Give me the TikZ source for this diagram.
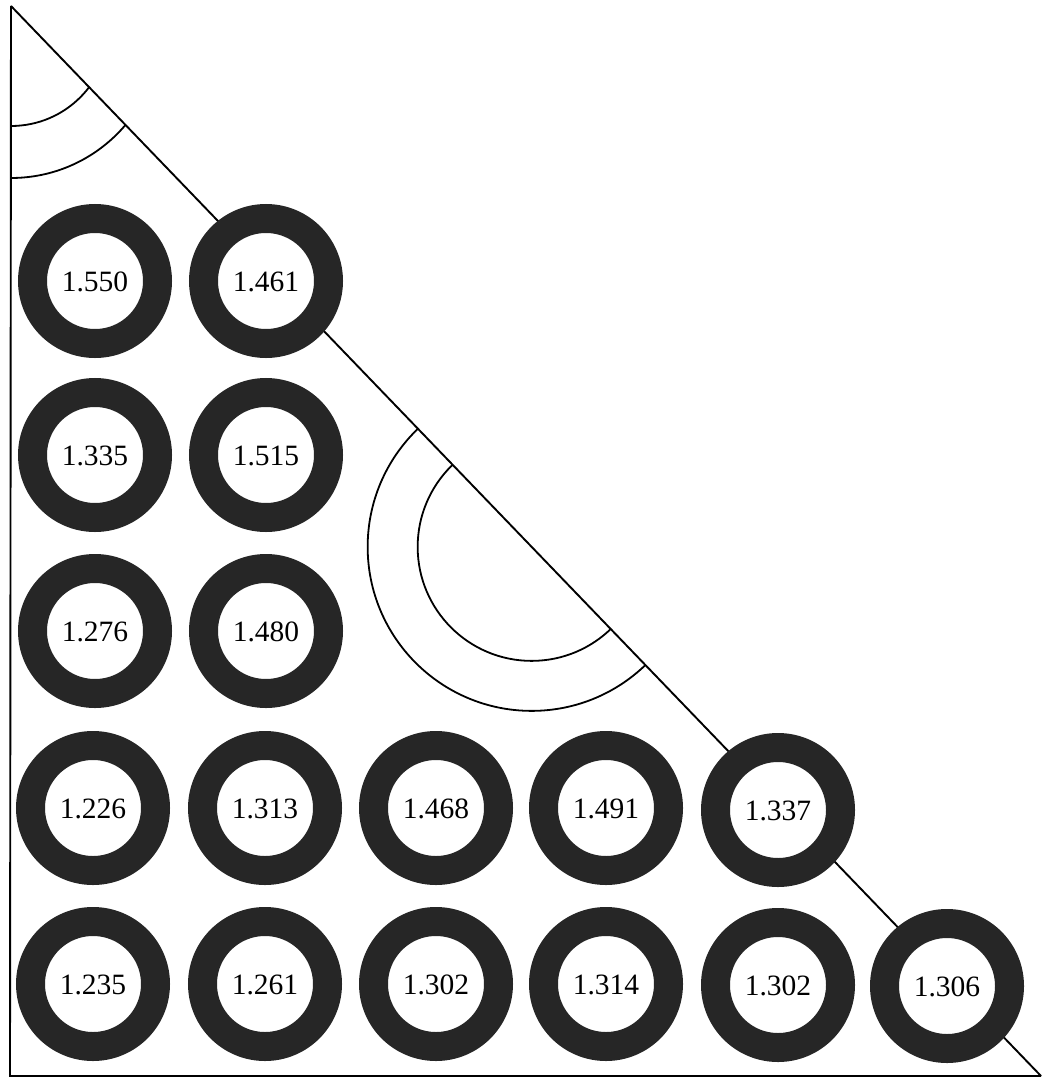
\documentclass[tikz,border=0pt]{standalone}
\usepackage{fontspec}
\setmainfont{Liberation Serif}
\definecolor{ringcol}{HTML}{262626}
\tikzset{
  edge/.style={line width=1.9pt, black},
  ring/.style={circle, inner sep=0pt, minimum size=125pt, fill=white,
    draw=ringcol, line width=29pt, font=\fontsize{29.5}{30}\selectfont,
    text depth=0pt, text height=20pt},
  arcline/.style={line width=1.8pt, black}
}
\begin{document}
\begin{tikzpicture}[x=1pt,y=-1pt]
\useasboundingbox (0,0) rectangle (1041,1081);
\coordinate (A) at (11,6);
\coordinate (B) at (10,1076);
\coordinate (C) at (1041,1076);
% triangle
\draw[edge] (A) -- (B) -- (C);
\draw[edge] (A) -- (C);
\coordinate (O1) at (11,28);
\path (A) -- coordinate[pos=0.5055] (O2) (C);
% arcs
\begin{scope}
  \clip (A) -- (B) -- (C) -- cycle;
  \draw[arcline] (O1) circle[radius=98];
  \draw[arcline] (O1) circle[radius=150];
  \draw[arcline] (O2) circle[radius=114];
  \draw[arcline] (O2) circle[radius=164];
\end{scope}
% rings
\node[ring] (r11) at (95,281) {1.550};
\node[ring] (r12) at (266,281) {1.461};
\node[ring] (r21) at (95,455) {1.335};
\node[ring] (r22) at (266,455) {1.515};
\node[ring] (r31) at (95,631) {1.276};
\node[ring] (r32) at (266,631) {1.480};
\node[ring] (r41) at (93,808) {1.226};
\node[ring] (r42) at (265,808) {1.313};
\node[ring] (r43) at (436,808) {1.468};
\node[ring] (r44) at (606,808) {1.491};
\node[ring] (r45) at (778,810) {1.337};
\node[ring] (r51) at (93,984) {1.235};
\node[ring] (r52) at (265,984) {1.261};
\node[ring] (r53) at (436,984) {1.302};
\node[ring] (r54) at (606,984) {1.314};
\node[ring] (r55) at (778,985) {1.302};
\node[ring] (r56) at (947,986) {1.306};
\end{tikzpicture}
\end{document}
